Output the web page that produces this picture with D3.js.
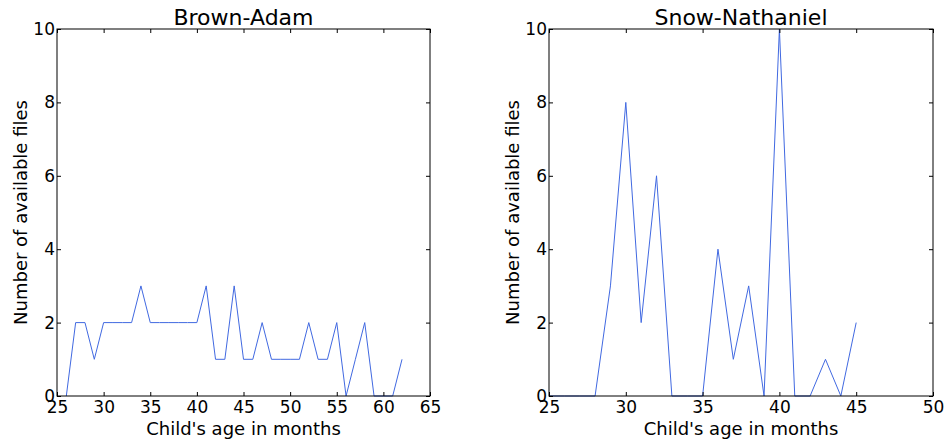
<!DOCTYPE html>
<html>
<head>
<meta charset="utf-8">
<script src="https://cdn.jsdelivr.net/npm/d3@7"></script>
<style>
  body { margin: 0; background: #fff; }
  svg { display: block; font-family: "DejaVu Sans", sans-serif; }
</style>
</head>
<body>
<svg id="chart"></svg>
<script>
// data
var brownAges = [26, 27, 28, 29, 30, 31, 32, 33, 34, 35, 36, 37, 38, 39, 40, 41, 42, 43, 44,
  45, 46, 47, 48, 49, 50, 51, 52, 53, 54, 55, 56, 57, 58, 59, 60, 61, 62];
var brownCounts = [0, 2, 2, 1, 2, 2, 2, 2, 3, 2, 2, 2, 2, 2, 2, 3, 1, 1, 3,
  1, 1, 2, 1, 1, 1, 1, 2, 1, 1, 2, 0, 1, 2, 0, 0, 0, 1];

var snowAges = [25, 26, 27, 28, 29, 30, 31, 32, 33, 34, 35, 36, 37, 38, 39, 40, 41, 42, 43, 44, 45];
var snowCounts = [0, 0, 0, 0, 3, 8, 2, 6, 0, 0, 0, 4, 1, 3, 0, 10, 0, 0, 1, 0, 2];

var brownXTicks = [25, 30, 35, 40, 45, 50, 55, 60, 65];
var snowXTicks = [25, 30, 35, 40, 45, 50];
var yTicks = [0, 2, 4, 6, 8, 10];

var width = 946;
var height = 443;
var plotTop = 29, plotBottom = 396; // axes box, same for both panels

var svg = d3.select('#chart')
  .attr('width', width)
  .attr('height', height);

var panels = [
  { title: 'Brown-Adam', ages: brownAges, counts: brownCounts, xDomain: [25, 65], xTicks: brownXTicks, left: 57, right: 430 },
  { title: 'Snow-Nathaniel', ages: snowAges, counts: snowCounts, xDomain: [25, 50], xTicks: snowXTicks, left: 549, right: 933 }
];

panels.forEach(function(p) {
  var x = d3.scaleLinear().domain(p.xDomain).range([p.left, p.right]);
  var y = d3.scaleLinear().domain([0, 10]).range([plotBottom, plotTop]);

  var g = svg.append('g');

  // the line first, frame drawn over it like matplotlib
  var line = d3.line()
    .x(function(d, i) { return x(p.ages[i]); })
    .y(function(d) { return y(d); });

  g.append('path')
    .datum(p.counts)
    .attr('d', line)
    .attr('fill', 'none')
    .attr('stroke', '#4169e1')
    .attr('stroke-width', 1);

  // ticks point inward on all four sides
  var xb = d3.axisBottom(x).tickValues(p.xTicks).tickSize(-4).tickSizeOuter(0).tickPadding(5);
  var xt = d3.axisTop(x).tickValues(p.xTicks).tickSize(-4).tickSizeOuter(0).tickFormat('');
  var yl = d3.axisLeft(y).tickValues(yTicks).tickSize(-4).tickSizeOuter(0).tickPadding(2);
  var yr = d3.axisRight(y).tickValues(yTicks).tickSize(-4).tickSizeOuter(0).tickFormat('');

  var axes = [
    g.append('g').attr('transform', 'translate(0,' + plotBottom + ')').call(xb),
    g.append('g').attr('transform', 'translate(0,' + plotTop + ')').call(xt),
    g.append('g').attr('transform', 'translate(' + p.left + ',0)').call(yl),
    g.append('g').attr('transform', 'translate(' + p.right + ',0)').call(yr)
  ];
  axes.forEach(function(a) {
    a.select('.domain').remove();
    a.selectAll('line').attr('stroke', '#000');
    a.selectAll('text')
      .attr('fill', '#000')
      .style('font-size', '17px')
      .style('font-family', '"DejaVu Sans", sans-serif');
  });

  // frame
  g.append('rect')
    .attr('x', p.left)
    .attr('y', plotTop)
    .attr('width', p.right - p.left)
    .attr('height', plotBottom - plotTop)
    .attr('fill', 'none')
    .attr('stroke', '#000')
    .attr('stroke-width', 1);

  // title
  g.append('text')
    .attr('x', (p.left + p.right) / 2)
    .attr('y', 25)
    .style('text-anchor', 'middle')
    .style('font-size', '22px')
    .text(p.title);

  // x label
  g.append('text')
    .attr('x', (p.left + p.right) / 2)
    .attr('y', 435)
    .style('text-anchor', 'middle')
    .style('font-size', '18px')
    .text("Child's age in months");

  // y label
  g.append('text')
    .attr('transform', 'rotate(-90)')
    .attr('x', -(plotTop + plotBottom) / 2)
    .attr('y', p.left - 30)
    .style('text-anchor', 'middle')
    .style('font-size', '18px')
    .text('Number of available files');
});
</script>
</body>
</html>
